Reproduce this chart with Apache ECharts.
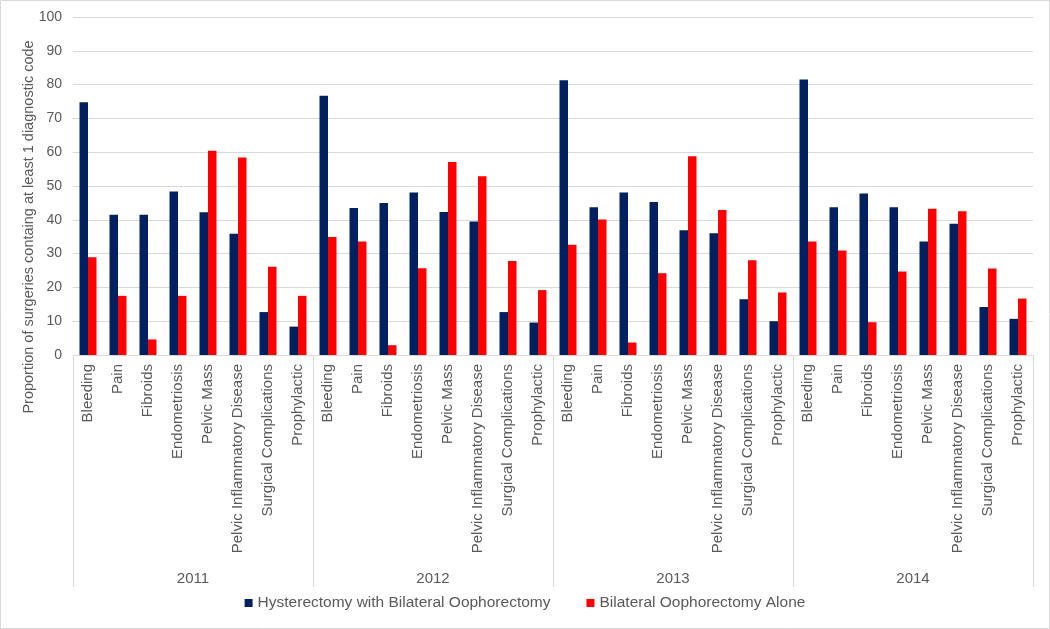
<!DOCTYPE html>
<html>
<head>
<meta charset="utf-8">
<script src="https://cdn.jsdelivr.net/npm/echarts@6/dist/echarts.min.js"></script>
<style>html,body{margin:0;padding:0;background:#fff}#c{width:1050px;height:629px}</style>
</head>
<body>
<div id="c"></div>
<script>
const categories = ['Bleeding','Pain','Fibroids','Endometriosis','Pelvic Mass','Pelvic Inflammatory Disease','Surgical Complications','Prophylactic'];
const years = ['2011','2012','2013','2014'];
const yTicks = [0,10,20,30,40,50,60,70,80,90,100];
// Hysterectomy with Bilateral Oophorectomy
const hystBO2011 = [74.8, 41.5, 41.5, 48.4, 42.2, 35.9, 12.7, 8.4];
const hystBO2012 = [76.7, 43.5, 45.0, 48.1, 42.3, 39.5, 12.7, 9.6];
const hystBO2013 = [81.3, 43.7, 48.1, 45.3, 36.9, 36.0, 16.5, 10.0];
const hystBO2014 = [81.5, 43.7, 47.8, 43.7, 33.6, 38.8, 14.2, 10.7];
// Bilateral Oophorectomy Alone
const boAlone2011 = [28.9, 17.5, 4.6, 17.5, 60.4, 58.4, 26.1, 17.5];
const boAlone2012 = [34.9, 33.6, 2.9, 25.7, 57.1, 52.9, 27.8, 19.2];
const boAlone2013 = [32.6, 40.1, 3.7, 24.2, 58.8, 42.9, 28.0, 18.5];
const boAlone2014 = [33.6, 30.9, 9.7, 24.7, 43.3, 42.5, 25.6, 16.7];
const seriesNames = ['Hysterectomy with Bilateral Oophorectomy','Bilateral Oophorectomy Alone'];
const yTitle = 'Proportion of surgeries containg at least 1 diagnostic code';

const xLabels = [];
years.forEach(y => categories.forEach(c => xLabels.push(c)));
const hystBO = [].concat(hystBO2011, hystBO2012, hystBO2013, hystBO2014);
const boAlone = [].concat(boAlone2011, boAlone2012, boAlone2013, boAlone2014);

const txt = '#595959';
const font = 'Liberation Sans, Arial, sans-serif';
const chart = echarts.init(document.getElementById('c'), null, {renderer:'canvas'});
chart.setOption({
  animation: false,
  backgroundColor: '#fff',
  textStyle: {fontFamily: font},
  grid: {left: 73, right: 17, top: 17, bottom: 274, containLabel: false},
  legend: {
    data: seriesNames, bottom: 13, left: 'center', icon: 'rect', itemWidth: 8, itemHeight: 8,
    itemGap: 36, textStyle: {color: txt, fontSize: 15.5, fontFamily: font}
  },
  xAxis: [{
    type: 'category', data: xLabels, position: 'bottom',
    axisLine: {show: true, lineStyle: {color: '#d9d9d9', width: 1}},
    axisTick: {show: false},
    axisLabel: {interval: 0, rotate: 90, margin: 9, color: txt, fontSize: 15, fontFamily: font}
  }, {
    type: 'category', data: years, position: 'bottom', gridIndex: 0,
    axisLine: {show: false},
    axisTick: {show: true, length: 232, lineStyle: {color: '#d9d9d9', width: 1}},
    axisLabel: {interval: 0, margin: 216, color: txt, fontSize: 15, fontFamily: font}
  }],
  yAxis: {
    type: 'value', min: yTicks[0], max: yTicks[yTicks.length-1], interval: 10,
    axisLine: {show: false}, axisTick: {show: false},
    splitLine: {lineStyle: {color: '#d9d9d9', width: 1}},
    axisLabel: {color: txt, fontSize: 14, margin: 11, fontFamily: font}
  },
  graphic: [
    {type: 'rect', shape: {x: 0.5, y: 0.5, width: 1049, height: 628}, style: {fill: 'none', stroke: '#d9d9d9', lineWidth: 1}, silent: true},
    {type: 'text', x: 29, y: 227, rotation: Math.PI/2, style: {text: yTitle, fill: txt, fontSize: 14.5, fontFamily: font, align: 'center', verticalAlign: 'middle'}}
  ],
  series: [
    {name: seriesNames[0], type: 'bar', data: hystBO, barWidth: 8.5, barGap: '0%', itemStyle: {color: '#002060'}},
    {name: seriesNames[1], type: 'bar', data: boAlone, barWidth: 8.5, barGap: '0%', itemStyle: {color: '#ff0000'}}
  ]
});
</script>
</body>
</html>
